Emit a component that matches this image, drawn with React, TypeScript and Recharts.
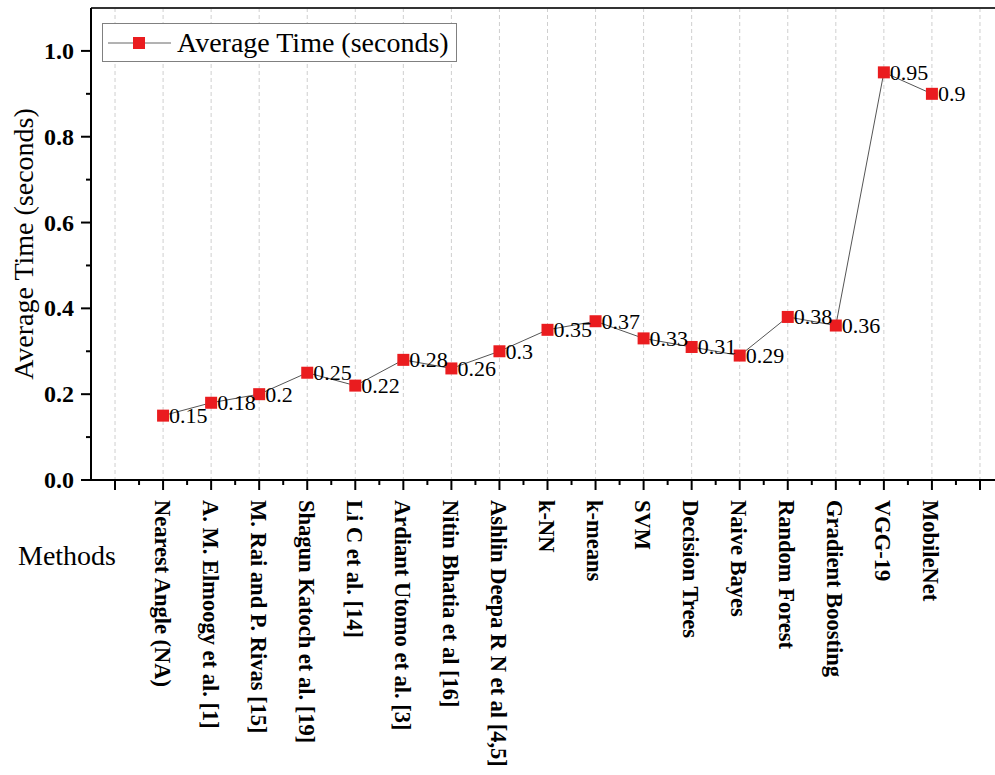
import React from 'react';
import { LineChart, Line, XAxis, YAxis, CartesianGrid, Legend, LabelList, Label, ReferenceLine } from 'recharts';

const methods = [
    'Nearest Angle (NA)',
    'A. M. Elmoogy et al. [1]',
    'M. Rai and P. Rivas [15]',
    'Shagun Katoch et al. [19]',
    'Li C et al. [14]',
    'Ardiant Utomo et al. [3]',
    'Nitin Bhatia et al [16]',
    'Ashlin Deepa R N et al [4,5]',
    'k-NN',
    'k-means',
    'SVM',
    'Decision Trees',
    'Naive Bayes',
    'Random Forest',
    'Gradient Boosting',
    'VGG-19',
    'MobileNet',
];

const avgTime = [0.15, 0.18, 0.2, 0.25, 0.22, 0.28, 0.26, 0.3, 0.35, 0.37, 0.33, 0.31, 0.29, 0.38, 0.36, 0.95, 0.9];

const yTicks = [0, 0.1, 0.2, 0.3, 0.4, 0.5, 0.6, 0.7, 0.8, 0.9, 1.0];
// major ticks on every slot (0 and 18 are empty), minor ones half way
const xTicks = Array.from({ length: 38 }, (_, i) => i / 2);
const gridSlots = Array.from({ length: 19 }, (_, i) => i);

const data = methods.map((name, i) => ({ pos: i + 1, name, time: avgTime[i] }));

const FONT = '"Liberation Serif", "Times New Roman", serif';
const RED = '#EA1C1F';

const XTick = (props: any) => {
    const { x, y, payload } = props;
    const v = payload.value;
    const major = Number.isInteger(v);
    const axisY = y - 12;
    const name = major && v >= 1 && v <= methods.length ? methods[v - 1] : '';
    return (
        <g>
            <line x1={x} x2={x} y1={axisY} y2={axisY + (major ? 10 : 5)} stroke="#000" strokeWidth={2} />
            {name && (
                <text
                    transform={`translate(${x - 1},${axisY + 20}) rotate(90)`}
                    textAnchor="start"
                    dominantBaseline="central"
                    fontFamily={FONT}
                    fontWeight="bold"
                    fontSize={22.5}
                    fill="#000"
                >
                    {name}
                </text>
            )}
        </g>
    );
};

const YTick = (props: any) => {
    const { x, y, payload } = props;
    const v = payload.value;
    const major = Math.round(v * 10) % 2 === 0;
    const axisX = x + 12;
    return (
        <g>
            <line x1={axisX} x2={axisX - (major ? 10 : 5)} y1={y} y2={y} stroke="#000" strokeWidth={2} />
            {major && (
                <text
                    x={axisX - 17}
                    y={y}
                    textAnchor="end"
                    dominantBaseline="central"
                    fontFamily={FONT}
                    fontWeight="bold"
                    fontSize={24}
                    fill="#000"
                >
                    {v.toFixed(1)}
                </text>
            )}
        </g>
    );
};

const SquareDot = (props: any) => {
    const { cx, cy } = props;
    if (cx == null || cy == null) return null;
    return <rect x={cx - 6} y={cy - 6} width={12} height={12} fill={RED} />;
};

const ValueLabel = (props: any) => {
    const { x, y, value } = props;
    return (
        <text x={x + 6} y={y + 7.5} fontFamily={FONT} fontSize={22} fill="#000">
            {String(value)}
        </text>
    );
};

const YTitle = (props: any) => {
    const { viewBox } = props;
    const cx = viewBox.x + 12;
    const cy = viewBox.y + viewBox.height / 2;
    return (
        <text
            transform={`translate(${cx},${cy}) rotate(-90)`}
            textAnchor="middle"
            dominantBaseline="central"
            fontFamily={FONT}
            fontSize={28}
            fill="#000"
        >
            Average Time (seconds)
        </text>
    );
};

const XTitle = (props: any) => {
    const { viewBox } = props;
    return (
        <text x={viewBox.x - 73} y={viewBox.y + 85} fontFamily={FONT} fontSize={28} fill="#000">
            Methods
        </text>
    );
};

const LegendBox = () => (
    <div
        style={{
            width: 353,
            height: 37,
            border: '1px solid #808080',
            background: '#fff',
            display: 'flex',
            alignItems: 'center',
            fontFamily: FONT,
            fontSize: 28,
            color: '#000',
        }}
    >
        <svg width={74} height={37} style={{ display: 'block' }}>
            <line x1={5} x2={68} y1={19} y2={19} stroke="#666" strokeWidth={1} />
            <rect x={30} y={13} width={12} height={12} fill={RED} />
        </svg>
        <span style={{ lineHeight: '37px', whiteSpace: 'nowrap' }}>Average Time (seconds)</span>
    </div>
);

const App: React.FC = () => {
    return (
        <div style={{ position: 'absolute', left: 0, top: 0, width: 995, height: 775, overflow: 'hidden', background: '#fff' }}>
            <LineChart width={1010} height={775} data={data} margin={{ top: 8, right: 6, bottom: 15, left: 11 }}>
                <CartesianGrid xAxisId="grid" horizontal={false} stroke="#cfcfcf" strokeDasharray="4 3" />
                {/* hidden axis only used to place the dashed grid on the method slots */}
                <XAxis xAxisId="grid" type="number" dataKey="pos" domain={[-0.5, 18.5]} ticks={gridSlots} interval={0} hide />
                <XAxis
                    type="number"
                    dataKey="pos"
                    domain={[-0.5, 18.5]}
                    ticks={xTicks}
                    interval={0}
                    height={280}
                    tickSize={10}
                    tickMargin={2}
                    tickLine={false}
                    tick={<XTick />}
                    axisLine={{ stroke: '#000', strokeWidth: 2 }}
                >
                    <Label content={<XTitle />} />
                </XAxis>
                <YAxis
                    type="number"
                    domain={[0, 1.1]}
                    ticks={yTicks}
                    interval={0}
                    width={80}
                    tickSize={10}
                    tickMargin={2}
                    tickLine={false}
                    tick={<YTick />}
                    axisLine={{ stroke: '#000', strokeWidth: 2 }}
                >
                    <Label content={<YTitle />} />
                </YAxis>
                <ReferenceLine y={1.1} stroke="#333" strokeWidth={2} />
                <Legend
                    layout="horizontal"
                    verticalAlign="middle"
                    align="center"
                    content={<LegendBox />}
                    wrapperStyle={{ left: 102, top: 23, width: 'auto' }}
                />
                <Line
                    type="linear"
                    dataKey="time"
                    stroke="#555"
                    strokeWidth={1}
                    dot={<SquareDot />}
                    activeDot={false}
                    isAnimationActive={false}
                >
                    <LabelList dataKey="time" content={<ValueLabel />} />
                </Line>
            </LineChart>
        </div>
    );
};

export default App;
